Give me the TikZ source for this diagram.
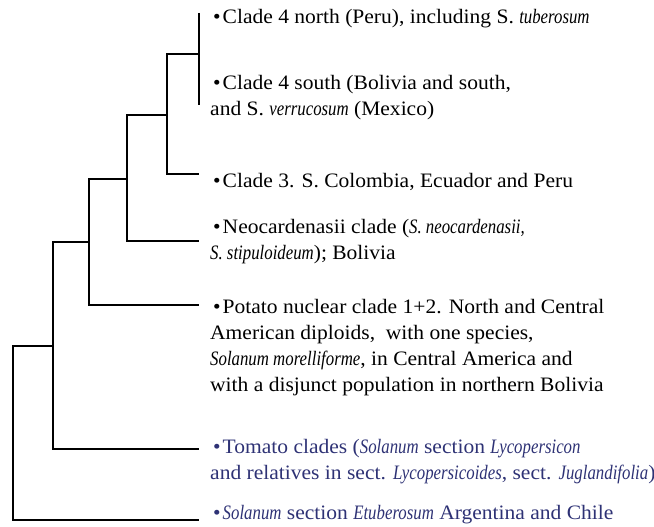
\documentclass[tikz,border=0pt]{standalone}
\usepackage{fontspec}
\setmainfont{Liberation Serif}[UprightFeatures={FakeStretch=1.05},ItalicFeatures={FakeStretch=0.82}]
\definecolor{navy}{HTML}{2E3275}
\newcommand{\bul}{\hspace{3pt}\textbullet\hspace{2pt}}
\begin{document}
\begin{tikzpicture}[x=1pt,y=-1pt,
  branch/.style={line width=1.8pt,line join=miter,line cap=butt},
  lbl/.style={anchor=base west,inner sep=0pt,align=left,font=\fontsize{20.5}{26}\selectfont},
  bluelbl/.style={lbl,text=navy}]
\useasboundingbox (0,0) rectangle (654,527);
% tree coordinates
\coordinate (bartop) at (199,13);
\coordinate (barbot) at (199,105);
\coordinate (clade4) at (199,54);
\coordinate (leaf3) at (199,174);
\coordinate (n34) at (167,115);
\coordinate (leafneo) at (199,241);
\coordinate (nneo) at (127,179);
\coordinate (leafpot) at (199,305);
\coordinate (npot) at (89,242);
\coordinate (leaftom) at (199,449);
\coordinate (ntom) at (53,346);
\coordinate (leafetu) at (199,520);
\coordinate (root) at (13,433);
% branches
\draw[branch] (bartop) -- (barbot);
\draw[branch] (clade4) -| (n34) |- (leaf3);
\draw[branch] (n34) -| (nneo) |- (leafneo);
\draw[branch] (nneo) -| (npot) |- (leafpot);
\draw[branch] (npot) -| (ntom) |- (leaftom);
\draw[branch] (ntom) -| (root) |- (leafetu);
% labels (base = baseline of last line)
\node[lbl] (t4n) at (210,24) {\bul Clade 4 north (Peru), including S. \textit{tuberosum}};
\node[lbl] (t4s) at (210,116) {\bul Clade 4 south (Bolivia and south,\\and S. \textit{verrucosum} (Mexico)};
\node[lbl] (t3) at (210,187) {\bul Clade 3. S. Colombia, Ecuador and Peru};
\node[lbl] (tneo) at (210,259) {\bul Neocardenasii clade (\textit{S. neocardenasii,}\\\textit{S. stipuloideum}); Bolivia};
\node[lbl] (tpot) at (210,391) {\bul Potato nuclear clade 1+2. North and Central\\American diploids,\ \ with one species,\\\textit{Solanum morelliforme}, in Central America and\\with a disjunct population in northern Bolivia};
\node[bluelbl] (ttom) at (210,479) {\bul Tomato clades (\textit{Solanum} section \textit{Lycopersicon}\\and relatives in sect. \textit{Lycopersicoides}, sect. \textit{Juglandifolia})};
\node[bluelbl] (tetu) at (210,519) {\bul\textit{Solanum} section \textit{Etuberosum} Argentina and Chile};
\end{tikzpicture}
\end{document}
